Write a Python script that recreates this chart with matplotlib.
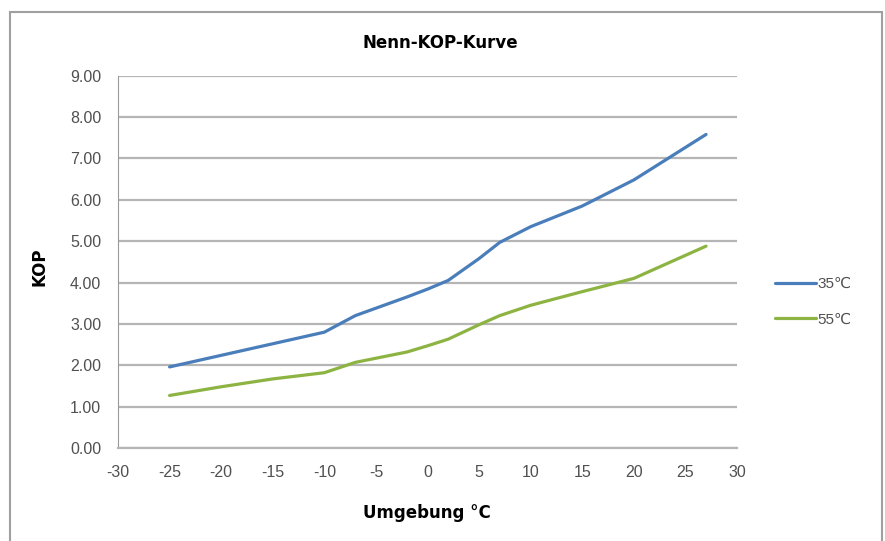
import matplotlib
matplotlib.use("Agg")
import matplotlib.pyplot as plt
from matplotlib.patches import Rectangle

# Werte
temps = [-25, -20, -15, -10, -7, -2, 0, 2, 5, 7, 10, 15, 20, 27]
kop_35 = [1.96, 2.24, 2.52, 2.80, 3.20, 3.65, 3.84, 4.05, 4.58, 4.97, 5.35, 5.85, 6.48, 7.58]
kop_55 = [1.27, 1.48, 1.67, 1.82, 2.07, 2.32, 2.47, 2.63, 2.98, 3.20, 3.45, 3.78, 4.10, 4.88]
series_labels = ["35℃", "55℃"]
x_ticks = list(range(-30, 31, 5))
y_ticks = [0, 1, 2, 3, 4, 5, 6, 7, 8, 9]

plt.rcParams["axes.unicode_minus"] = False
plt.rcParams["font.family"] = ["Liberation Sans", "DejaVu Sans"]

fig = plt.figure(figsize=(8.85, 5.41), dpi=100)
ax = fig.add_axes([118/885, 1-448/541, (737-118)/885, (448-75.7)/541])

ax.plot(temps, kop_35, color="#4a7ebb", lw=2.3, label=series_labels[0],
        solid_capstyle="round", solid_joinstyle="round")
ax.plot(temps, kop_55, color="#8db443", lw=2.3, label=series_labels[1],
        solid_capstyle="round", solid_joinstyle="round")

ax.set_xlim(-30, 30)
ax.set_ylim(0, 9)
ax.set_xticks(x_ticks)
ax.set_yticks(y_ticks)
ax.set_yticklabels([f"{v:.2f}" for v in y_ticks])
ax.tick_params(length=0, labelsize=11.5, labelcolor="#505050")
ax.tick_params(axis="y", pad=12)
ax.tick_params(axis="x", pad=12)

ax.grid(axis="y", color="#b5b5b5", lw=1.6)
ax.set_axisbelow(True)
for s in ["top", "right"]:
    ax.spines[s].set_visible(False)
ax.spines["left"].set_color("#9a9a9a")
ax.spines["bottom"].set_color("#b5b5b5")
ax.spines["bottom"].set_linewidth(1.6)

fig.text(440/885, 1-43/541, "Nenn-KOP-Kurve", ha="center", va="center",
         fontsize=12, fontweight="bold", family="DejaVu Sans")
fig.text(427/885, 1-513/541, "Umgebung °C", ha="center", va="center",
         fontsize=12, fontweight="bold", family="DejaVu Sans")
fig.text(39/885, 1-267/541, "KOP", ha="center", va="center", rotation=90,
         fontsize=12, fontweight="bold", family="DejaVu Sans")

leg = fig.legend(loc="center left", bbox_to_anchor=(775/885, 1-302/541), frameon=False,
                 fontsize=11, handlelength=2.7, handletextpad=0.1, labelspacing=1.4,
                 borderpad=0, borderaxespad=0)
for t in leg.get_texts():
    t.set_color("#505050")

fig.patches.append(Rectangle((10/885, -0.05), 872/885, 1.05-12/541, transform=fig.transFigure,
                             fill=False, edgecolor="#a0a0a0", lw=1.5))

fig.savefig("out.png", dpi=100)
